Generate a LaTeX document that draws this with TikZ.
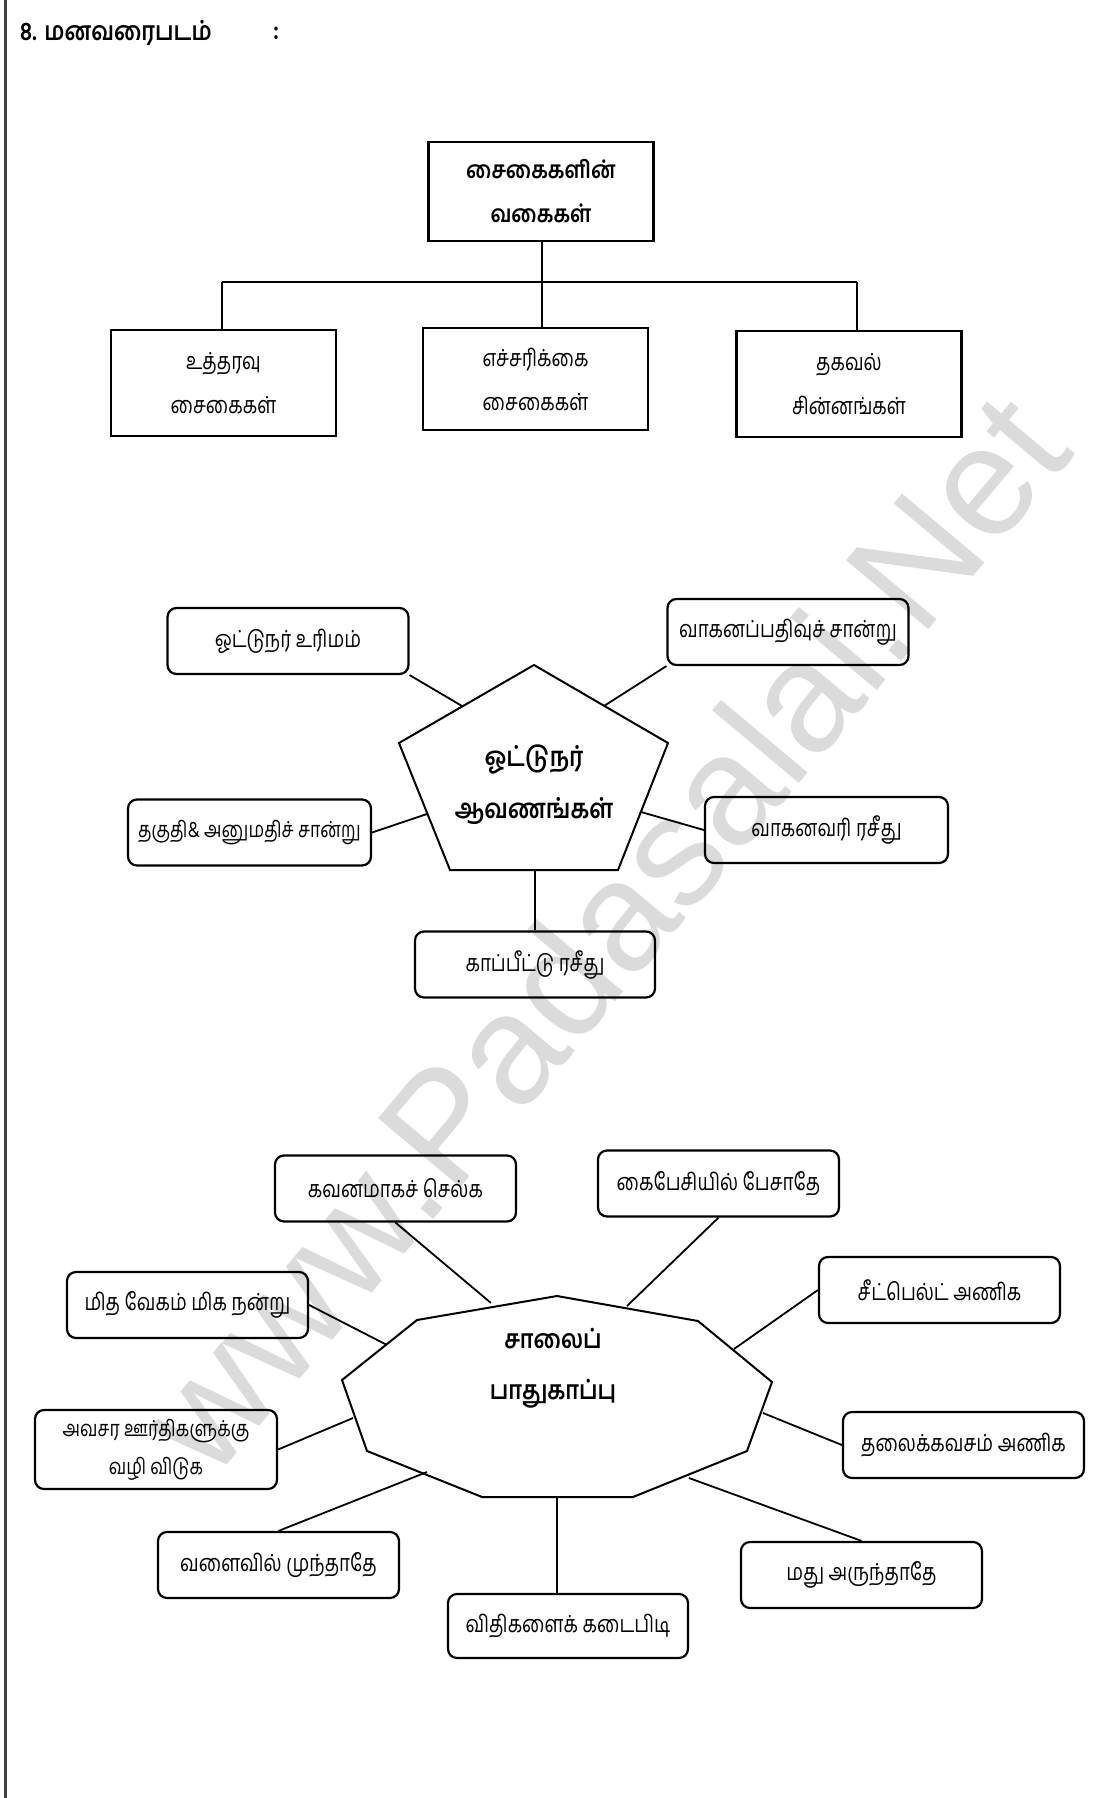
\documentclass[tikz,border=0pt]{standalone}
\usepackage{fontspec}
\newfontfamily\tam[Script=Tamil,FakeStretch=0.8]{Hind Madurai}
\newfontfamily\tamb[Script=Tamil,FakeStretch=0.85]{Hind Madurai}
\newfontfamily\wmfont{Liberation Sans}
\begin{document}
\begin{tikzpicture}[x=1pt,y=-1pt,
  sq/.style={draw, line width=2.6pt, minimum width=225pt, minimum height=102pt, inner sep=0pt, align=center, font=\tam\fontsize{23.5}{44}\selectfont},
  rb/.style={draw, line width=2.2pt, rounded corners=9pt, minimum width=241pt, minimum height=66pt, inner sep=0pt, align=center, font=\tam\fontsize{23.5}{36}\selectfont},
  con/.style={line width=1.8pt},
  ctr/.style={inner sep=0pt, align=center, font=\tamb\bfseries\fontsize{27}{52}\selectfont},
  poly/.style={line width=2pt, line join=miter},
]
\useasboundingbox (0,0) rectangle (1094,1798);
% watermark
\node[rotate=50, inner sep=0pt, text=black!14, font=\wmfont\fontsize{156}{156}\selectfont] (wm) at (602,932) {www.Padasalai.Net};
% page line
\coordinate (pg1) at (5.5,0);
\coordinate (pg2) at (5.5,1798);
\draw[line width=3pt, black!75] (pg1) -- (pg2);
% title
\node[anchor=west, inner sep=0pt, font=\tamb\bfseries\fontsize{26}{28}\selectfont] (title) at (20,33) {8. மனவரைபடம்};
\node[inner sep=0pt, font=\tamb\bfseries\fontsize{26}{28}\selectfont] (colon) at (276,33) {:};

% ---------- section 1 ----------
\node[sq, minimum height=99pt, font=\tamb\bfseries\fontsize{24}{44}\selectfont] (top) at (541,191.5) {சைகைகளின்\\வகைகள்};
\node[sq, minimum height=106pt] (c1) at (223.5,383) {உத்தரவு\\சைகைகள்};
\node[sq] (c2) at (535.5,379) {எச்சரிக்கை\\சைகைகள்};
\node[sq, minimum height=106pt] (c3) at (849,384) {தகவல்\\சின்னங்கள்};
\coordinate (hl) at (222,282);
\coordinate (hr) at (857,282);
\coordinate (hm) at (542,282);
\draw[con] (top.south -| hm) -- (hm);
\draw[con] (hl) -- (hr);
\draw[con] (hl) -- (hl |- c1.north);
\draw[con] (hr) -- (hr |- c3.north);
\draw[con] (hm) -- (hm |- c2.north);

% ---------- section 2 ----------
\coordinate (p1) at (534,665);
\coordinate (p2) at (668,743);
\coordinate (p3) at (618,870);
\coordinate (p4) at (450,870);
\coordinate (p5) at (399,743);
\draw[poly] (p1) -- (p2) -- (p3) -- (p4) -- (p5) -- cycle;
\node[ctr] (pc) at (534,785) {ஓட்டுநர்\\ஆவணங்கள்};
\node[rb] (b1) at (288,641) {ஓட்டுநர் உரிமம்};
\node[rb] (b2) at (788,632) {வாகனப்பதிவுச் சான்று};
\node[rb, minimum width=243pt, font=\tam\fontsize{22}{36}\selectfont] (b3) at (249.5,832.5) {தகுதி\& அனுமதிச் சான்று};
\node[rb, minimum width=243pt] (b4) at (826.5,830) {வாகனவரி ரசீது};
\node[rb, minimum width=240pt] (b5) at (535,964.5) {காப்பீட்டு ரசீது};
\coordinate (q1) at (462,706);
\coordinate (q2) at (604,706);
\coordinate (q3) at (427,814);
\coordinate (q4) at (641,812);
\coordinate (q5) at (535,870);
\draw[con] (b1.south east) -- (q1);
\draw[con] (b2.south west) -- (q2);
\draw[con] (b3.east) -- (q3);
\draw[con] (b4.west) -- (q4);
\draw[con] (q5) -- (q5 |- b5.north);

% ---------- section 3 ----------
\coordinate (v1) at (557,1296);
\coordinate (v2) at (698,1321);
\coordinate (v3) at (772,1382);
\coordinate (v4) at (747,1451);
\coordinate (v5) at (633,1497);
\coordinate (v6) at (482,1497);
\coordinate (v7) at (367,1451);
\coordinate (v8) at (342,1380);
\coordinate (v9) at (417,1320);
\draw[poly] (v1) -- (v2) -- (v3) -- (v4) -- (v5) -- (v6) -- (v7) -- (v8) -- (v9) -- cycle;
\node[ctr, font=\tamb\bfseries\fontsize{26}{51}\selectfont] (sc) at (553,1368) {சாலைப்\\பாதுகாப்பு};
\node[rb] (d1) at (395.5,1188.5) {கவனமாகச் செல்க};
\node[rb] (d2) at (718.5,1183.5) {கைபேசியில் பேசாதே};
\node[rb] (d3) at (187.5,1305) {மித வேகம் மிக நன்று};
\node[rb] (d4) at (939.5,1290) {சீட்பெல்ட் அணிக};
\node[rb, minimum width=242pt, minimum height=79pt, font=\tam\fontsize{22}{38}\selectfont] (d5) at (156,1449.5) {அவசர ஊர்திகளுக்கு\\வழி விடுக};
\node[rb] (d6) at (963.5,1445) {தலைக்கவசம் அணிக};
\node[rb] (d7) at (278.5,1565) {வளைவில் முந்தாதே};
\node[rb, minimum width=240pt, minimum height=64pt] (d8) at (568,1626) {விதிகளைக் கடைபிடி};
\node[rb] (d9) at (861.5,1575) {மது அருந்தாதே};
\coordinate (e1) at (491,1303);
\coordinate (e2) at (627,1306);
\coordinate (e3) at (387,1345);
\coordinate (e4) at (734,1349);
\coordinate (e5) at (353,1418);
\coordinate (e6) at (763,1413);
\coordinate (e7) at (427,1472);
\coordinate (e8) at (557,1497);
\coordinate (e9) at (689,1478);
\draw[con] (d1.south) -- (e1);
\draw[con] (d2.south) -- (e2);
\draw[con] (d3.east) -- (e3);
\draw[con] (d4.west) -- (e4);
\draw[con] (d5.east) -- (e5);
\draw[con] (d6.west) -- (e6);
\draw[con] (d7.north) -- (e7);
\draw[con] (e8) -- (e8 |- d8.north);
\draw[con] (d9.north) -- (e9);
\end{tikzpicture}
\end{document}
